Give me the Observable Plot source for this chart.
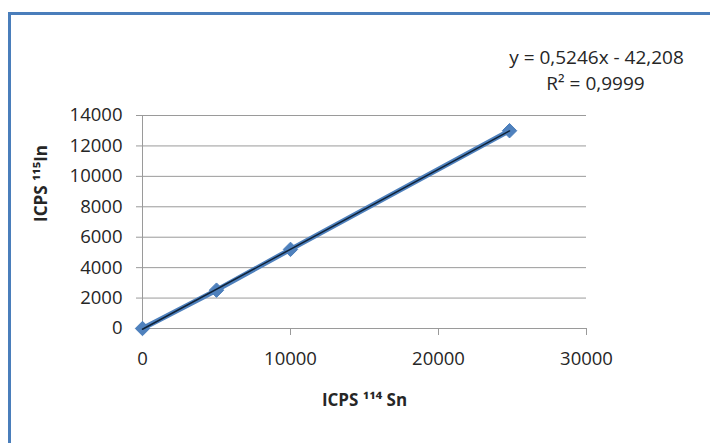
<!DOCTYPE html>
<html><head><meta charset="utf-8">
<script src="https://cdn.jsdelivr.net/npm/d3@7"></script>
<script src="https://cdn.jsdelivr.net/npm/@observablehq/plot@0.6"></script>
<style>
html,body{margin:0;padding:0;background:#fff;width:710px;height:443px;overflow:hidden}
#wrap{position:absolute;left:0;top:0;width:710px;height:443px}
#border{position:absolute;left:8px;top:12px;width:720px;height:460px;border-left:3px solid #4a7ebb;border-top:3px solid #4a7ebb;box-sizing:border-box}
#chart{position:absolute;left:0;top:0}
</style>
</head><body>
<div id="wrap"><div id="border"></div><div id="chart"></div></div>
<script>
const sn114 = [0, 5000, 10000, 24800];
const in115 = [0, 2520, 5200, 13000];
const xTicks = [0, 10000, 20000, 30000];
const yTicks = [0, 2000, 4000, 6000, 8000, 10000, 12000, 14000];
const equation = "y = 0,5246x - 42,208";
const rSquared = "R² = 0,9999";
const xLabel = "ICPS ¹¹⁴ Sn";
const yLabel = "ICPS ¹¹⁵In";

const data = sn114.map((x, i) => ({x, y: in115[i]}));
const font = "Open Sans, Lato, sans-serif";

const chart = Plot.plot({
  width: 710,
  height: 443,
  marginLeft: 142,
  marginRight: 124,
  marginTop: 115,
  marginBottom: 115,
  style: {fontFamily: font, fontSize: "18px", color: "#262626", background: "transparent"},
  x: {domain: [0, 30000]},
  y: {domain: [0, 14000]},
  marks: [
    Plot.gridY(yTicks, {stroke: "#9a9a9a", strokeOpacity: 1, strokeWidth: 1}),
    Plot.ruleX([0], {stroke: "#9a9a9a"}),
    Plot.ruleY([0], {stroke: "#9a9a9a"}),
    Plot.axisY({ticks: yTicks, tickSize: 6, tickPadding: 14, stroke: "#9a9a9a", label: null, tickFormat: d => String(d), fontSize: 18.5}),
    Plot.axisX({ticks: xTicks, tickSize: 7, tickPadding: 16, stroke: "#9a9a9a", label: null, tickFormat: d => String(d), fontSize: 18.5}),
    Plot.line(data, {x: "x", y: "y", stroke: "#4f81bd", strokeWidth: 5}),
    Plot.dot(data, {x: "x", y: "y", symbol: "diamond2", r: 6.5, fill: "#4f81bd", stroke: "#4a7ebb", strokeWidth: 1}),
    Plot.linearRegressionY(data, {x: "x", y: "y", ci: 0, stroke: "#0f2238", strokeWidth: 1.5}),
    Plot.text([equation], {frameAnchor: "top-right", dx: 10, dy: -65, textAnchor: "middle", fontSize: 19, fill: "#262626"}),
    Plot.text([rSquared], {frameAnchor: "top-right", dx: 9, dy: -39, textAnchor: "middle", fontSize: 19, fill: "#262626"}),
    Plot.text([xLabel], {frameAnchor: "bottom", dy: 77, fontSize: 17, fontWeight: "bold", fill: "#262626"}),
    Plot.text([yLabel], {frameAnchor: "left", dx: -101, rotate: -90, fontSize: 17, fontWeight: "bold", fill: "#262626"})
  ]
});
document.getElementById("chart").appendChild(chart);
</script>
</body></html>
